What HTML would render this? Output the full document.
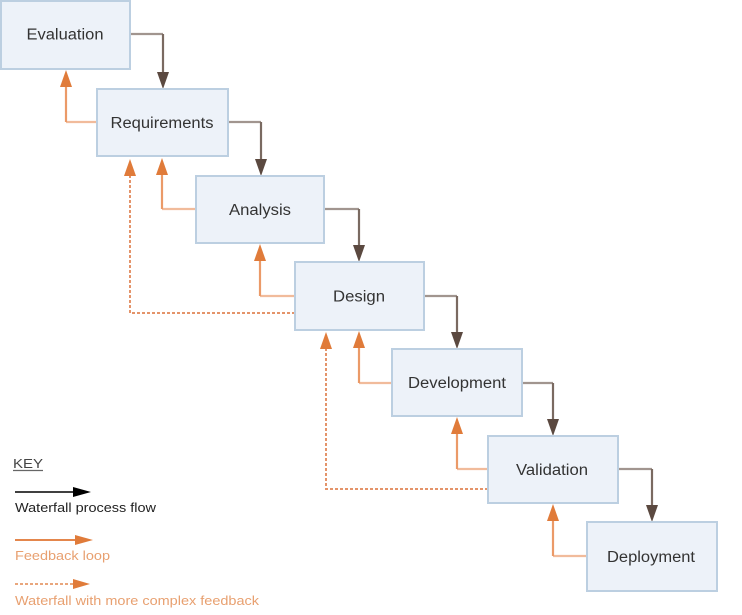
<!DOCTYPE html>
<html>
<head>
<meta charset="utf-8">
<style>
  html, body { margin: 0; padding: 0; background: #ffffff; }
  body { width: 742px; height: 615px; overflow: hidden; }
  svg { display: block; }
  .box { fill: #edf2f9; stroke: #bccfe1; stroke-width: 2; }
  .lbl { font-family: "Liberation Sans", Arial, sans-serif; font-size: 15.5px; fill: #333333; text-anchor: middle; }
  .key { font-family: "Liberation Sans", Arial, sans-serif; font-size: 13px; }
</style>
</head>
<body>
<svg width="742" height="615" viewBox="0 0 742 615" xmlns="http://www.w3.org/2000/svg">

  <!-- Forward (waterfall) connectors -->
  <g fill="none" stroke-width="2.2">
    <path d="M130 34 H163" stroke="#a1958f"/><path d="M163 34 V74" stroke="#7a6a61"/>
    <path d="M228 122 H261" stroke="#a1958f"/><path d="M261 122 V161" stroke="#7a6a61"/>
    <path d="M324 209 H359" stroke="#a1958f"/><path d="M359 209 V247" stroke="#7a6a61"/>
    <path d="M424 296 H457" stroke="#a1958f"/><path d="M457 296 V334" stroke="#7a6a61"/>
    <path d="M522 383 H553" stroke="#a1958f"/><path d="M553 383 V421" stroke="#7a6a61"/>
    <path d="M618 469 H652" stroke="#a1958f"/><path d="M652 469 V507" stroke="#7a6a61"/>
  </g>
  <g fill="#5b4940">
    <polygon points="157,72 169,72 163,89"/>
    <polygon points="255,159 267,159 261,176"/>
    <polygon points="353,245 365,245 359,262"/>
    <polygon points="451,332 463,332 457,349"/>
    <polygon points="547,419 559,419 553,436"/>
    <polygon points="646,505 658,505 652,522"/>
  </g>

  <!-- Feedback connectors -->
  <g fill="none" stroke-width="2.2">
    <path d="M97 122 H66" stroke="#f1bb9b"/><path d="M66 122 V84" stroke="#eb9a68"/>
    <path d="M196 209 H162" stroke="#f1bb9b"/><path d="M162 209 V172" stroke="#eb9a68"/>
    <path d="M295 296 H260" stroke="#f1bb9b"/><path d="M260 296 V258" stroke="#eb9a68"/>
    <path d="M392 383 H359" stroke="#f1bb9b"/><path d="M359 383 V345" stroke="#eb9a68"/>
    <path d="M488 469 H457" stroke="#f1bb9b"/><path d="M457 469 V431" stroke="#eb9a68"/>
    <path d="M587 556 H553" stroke="#f1bb9b"/><path d="M553 556 V518" stroke="#eb9a68"/>
  </g>
  <g fill="#e07b3a">
    <polygon points="66,70 60,87 72,87"/>
    <polygon points="162,158 156,175 168,175"/>
    <polygon points="260,244 254,261 266,261"/>
    <polygon points="359,331 353,348 365,348"/>
    <polygon points="457,417 451,434 463,434"/>
    <polygon points="553,504 547,521 559,521"/>
  </g>

  <!-- Dotted complex feedback -->
  <g fill="none" stroke="#e4946a" stroke-width="2" stroke-dasharray="3 2">
    <path d="M295 313 H130 V174"/>
    <path d="M488 489 H326 V346"/>
  </g>
  <g fill="#e07b3a">
    <polygon points="130,159 124,176 136,176"/>
    <polygon points="326,332 320,349 332,349"/>
  </g>

  <!-- Boxes -->
  <rect class="box" x="1" y="1" width="129" height="68"/>
  <rect class="box" x="97" y="89" width="131" height="67"/>
  <rect class="box" x="196" y="176" width="128" height="67"/>
  <rect class="box" x="295" y="262" width="129" height="68"/>
  <rect class="box" x="392" y="349" width="130" height="67"/>
  <rect class="box" x="488" y="436" width="130" height="67"/>
  <rect class="box" x="587" y="522" width="130" height="69"/>

  <!-- Box labels -->
  <text class="lbl" x="65" y="39.5" textLength="77" lengthAdjust="spacingAndGlyphs">Evaluation</text>
  <text class="lbl" x="162" y="128" textLength="103" lengthAdjust="spacingAndGlyphs">Requirements</text>
  <text class="lbl" x="260" y="215" textLength="62" lengthAdjust="spacingAndGlyphs">Analysis</text>
  <text class="lbl" x="359" y="301.5" textLength="52" lengthAdjust="spacingAndGlyphs">Design</text>
  <text class="lbl" x="457" y="388" textLength="98" lengthAdjust="spacingAndGlyphs">Development</text>
  <text class="lbl" x="552" y="475" textLength="72" lengthAdjust="spacingAndGlyphs">Validation</text>
  <text class="lbl" x="651" y="562" textLength="88" lengthAdjust="spacingAndGlyphs">Deployment</text>

  <!-- Key -->
  <text class="key" x="13" y="468" fill="#444444" textLength="30" lengthAdjust="spacingAndGlyphs">KEY</text>
  <line x1="13" y1="470.5" x2="43" y2="470.5" stroke="#666666" stroke-width="1.3"/>

  <line x1="15" y1="492" x2="75" y2="492" stroke="#000000" stroke-width="1.5"/>
  <polygon points="73,487 91,492 73,497" fill="#000000"/>
  <text class="key" x="15" y="512" fill="#222222" textLength="141" lengthAdjust="spacingAndGlyphs">Waterfall process flow</text>

  <line x1="15" y1="540" x2="78" y2="540" stroke="#e4864c" stroke-width="2"/>
  <polygon points="75,535 93,540 75,545" fill="#e07b3a"/>
  <text class="key" x="15" y="560" fill="#e8a070" textLength="95" lengthAdjust="spacingAndGlyphs">Feedback loop</text>

  <line x1="15" y1="584" x2="74" y2="584" stroke="#e9a67c" stroke-width="2" stroke-dasharray="3 2"/>
  <polygon points="73,579 90,584 73,589" fill="#e07b3a"/>
  <text class="key" x="15" y="605" fill="#e8a070" textLength="244" lengthAdjust="spacingAndGlyphs">Waterfall with more complex feedback</text>
</svg>
</body>
</html>
